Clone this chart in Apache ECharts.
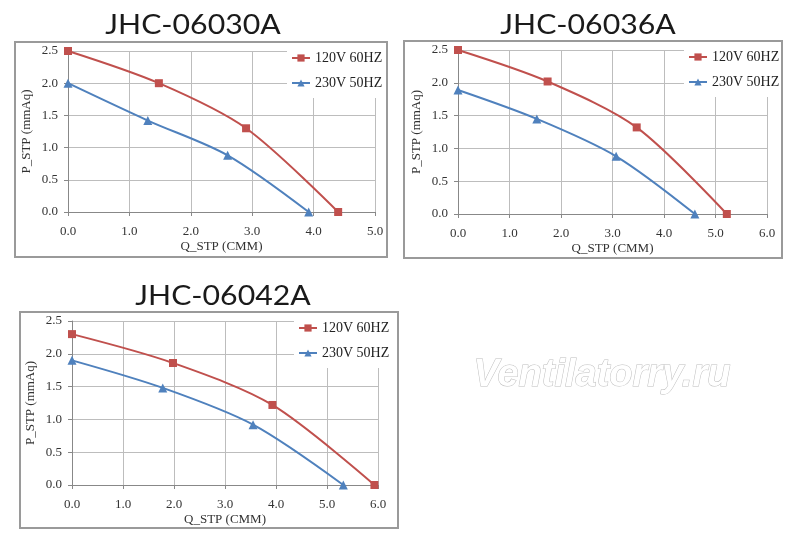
<!DOCTYPE html>
<html>
<head>
<meta charset="utf-8">
<script src="https://cdn.jsdelivr.net/npm/echarts@6/dist/echarts.min.js"></script>
<style>
  html, body { margin: 0; padding: 0; background: #fff; }
  #main { width: 800px; height: 553px; }
</style>
</head>
<body>
<div id="main"></div>
<script>
// fan curves
var models = ['JHC-06030A', 'JHC-06036A', 'JHC-06042A'];
var seriesNames = ['120V 60HZ', '230V 50HZ'];

var q30Red = [0, 1.48, 2.9, 4.4];
var p30Red = [2.5, 2.0, 1.3, 0];
var q30Blue = [0, 1.3, 2.6, 3.92];
var p30Blue = [2.0, 1.42, 0.88, 0];

var q36Red = [0, 1.74, 3.47, 5.22];
var p36Red = [2.5, 2.02, 1.32, 0];
var q36Blue = [0, 1.53, 3.07, 4.6];
var p36Blue = [1.89, 1.45, 0.88, 0];

var q42Red = [0, 1.98, 3.93, 5.93];
var p42Red = [2.3, 1.86, 1.22, 0];
var q42Blue = [0, 1.78, 3.55, 5.32];
var p42Blue = [1.9, 1.48, 0.92, 0];

var xMax = [5, 6, 6];
var yMax = 2.5;

function pairs(q, p) {
    var out = [];
    for (var i = 0; i < q.length; i++) {
        out.push([q[i], p[i]]);
    }
    return out;
}

var chart = echarts.init(document.getElementById('main'));

var serif = 'Liberation Serif';
var RED = '#C0504D', BLUE = '#4F81BD';

// grid / frame / title / legend placement per panel
var grids = [
    {left: 68, top: 51, width: 307, height: 161},
    {left: 458, top: 50, width: 309, height: 164},
    {left: 72, top: 321, width: 306, height: 164}
];
var frames = [
    {x: 15, y: 42, w: 372, h: 215},
    {x: 404, y: 41, w: 378, h: 217},
    {x: 20, y: 312, w: 378, h: 216}
];
var titlePos = [[193, 25], [588, 25], [223, 296]];
var legendPos = [[287, 44], [684, 43], [294, 314]];

var curves = [
    [pairs(q30Red, p30Red), pairs(q30Blue, p30Blue)],
    [pairs(q36Red, p36Red), pairs(q36Blue, p36Blue)],
    [pairs(q42Red, p42Red), pairs(q42Blue, p42Blue)]
];

var option = {
    animation: false,
    grid: [], xAxis: [], yAxis: [], legend: [], series: [],
    graphic: []
};

for (var k = 0; k < 3; k++) {
    option.grid.push(grids[k]);
    option.xAxis.push({
        type: 'value', gridIndex: k, min: 0, max: xMax[k], interval: 1,
        name: 'Q_STP (CMM)', nameLocation: 'middle', nameGap: 28,
        nameTextStyle: {fontFamily: serif, fontSize: 13, color: '#333'},
        axisLine: {show: true, lineStyle: {color: '#888'}},
        axisTick: {show: true, length: 4, lineStyle: {color: '#888'}},
        axisLabel: {fontFamily: serif, fontSize: 13, color: '#333', margin: 13,
            formatter: function (v) { return v.toFixed(1); }},
        splitLine: {show: true, lineStyle: {color: '#bdbdbd'}}
    });
    option.yAxis.push({
        type: 'value', gridIndex: k, min: 0, max: yMax, interval: 0.5,
        name: 'P_STP (mmAq)', nameLocation: 'middle', nameGap: 35, nameRotate: 90,
        nameTextStyle: {fontFamily: serif, fontSize: 13, color: '#333'},
        axisLine: {show: true, lineStyle: {color: '#888'}},
        axisTick: {show: true, length: 4, lineStyle: {color: '#888'}},
        axisLabel: {fontFamily: serif, fontSize: 13, color: '#333', margin: 10,
            formatter: function (v) { return v.toFixed(1); }},
        splitLine: {show: true, lineStyle: {color: '#bdbdbd'}}
    });
    option.legend.push({
        data: seriesNames,
        orient: 'vertical',
        left: legendPos[k][0], top: legendPos[k][1],
        backgroundColor: '#fff',
        padding: [7, 4, 8, 4],
        itemGap: 11, itemWidth: 18, itemHeight: 9,
        textStyle: {fontFamily: serif, fontSize: 14, color: '#222'},
        selectedMode: false
    });
    option.series.push({
        name: seriesNames[0], type: 'line', xAxisIndex: k, yAxisIndex: k,
        data: curves[k][0], smooth: 0.3,
        symbol: 'rect', symbolSize: 8,
        itemStyle: {color: RED}, lineStyle: {color: RED, width: 2}
    });
    option.series.push({
        name: seriesNames[1], type: 'line', xAxisIndex: k, yAxisIndex: k,
        data: curves[k][1], smooth: 0.3,
        symbol: 'triangle', symbolSize: 9,
        itemStyle: {color: BLUE}, lineStyle: {color: BLUE, width: 2}
    });
    // outer frame, kept on top so legend background does not hide it
    option.graphic.push({
        type: 'rect', z: 100, silent: true,
        shape: {x: frames[k].x, y: frames[k].y, width: frames[k].w, height: frames[k].h},
        style: {fill: 'none', stroke: '#9a9a9a', lineWidth: 2}
    });
    // model name, stretched a little to look like the wide geometric face
    option.graphic.push({
        type: 'text', silent: true,
        x: titlePos[k][0], y: titlePos[k][1],
        scaleX: 1.12,
        style: {
            text: models[k],
            font: 'normal 27px Lato',
            fill: '#1a1a1a',
            align: 'center', verticalAlign: 'middle'
        }
    });
}

// site watermark
option.graphic.push({
    type: 'text', left: 473, top: 356, silent: true,
    style: {
        text: 'Ventilatorry.ru',
        font: 'italic bold 38px "Liberation Sans"',
        fill: '#fff', stroke: '#bdbdbd', lineWidth: 1
    }
});

chart.setOption(option);
</script>
</body>
</html>
